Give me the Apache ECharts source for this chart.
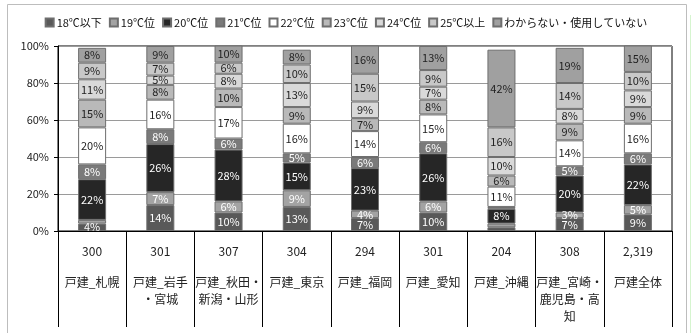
<!DOCTYPE html>
<html>
<head>
<meta charset="utf-8">
<script src="https://cdn.jsdelivr.net/npm/echarts@6/dist/echarts.min.js"></script>
<style>
  html, body { margin: 0; padding: 0; background: #fff; }
  #chart { width: 692px; height: 333px; }
</style>
</head>
<body>
<div id="chart"></div>
<script>
// 戸建住宅の暖房設定温度（地域別、構成比 %）
const regions = ['戸建_札幌', '戸建_岩手\n・宮城', '戸建_秋田・\n新潟・山形', '戸建_東京', '戸建_福岡',
                 '戸建_愛知', '戸建_沖縄', '戸建_宮崎・\n鹿児島・高\n知', '戸建全体'];
const sampleSizes = ['300', '301', '307', '304', '294', '301', '204', '308', '2,319'];

const seriesNames = ['18℃以下', '19℃位', '20℃位', '21℃位', '22℃位', '23℃位', '24℃位', '25℃以上', 'わからない・使用していない'];

const t18   = [4, 14, 10, 13, 7, 10, 2, 7, 9];
const t19   = [2, 7, 6, 9, 4, 6, 2, 3, 5];
const t20   = [22, 26, 28, 15, 23, 26, 8, 20, 22];
const t21   = [8, 8, 6, 5, 6, 6, 1, 5, 6];
const t22   = [20, 16, 17, 16, 14, 15, 11, 14, 16];
const t23   = [15, 8, 10, 9, 7, 8, 6, 9, 9];
const t24   = [11, 5, 8, 13, 9, 7, 10, 8, 9];
const t25   = [9, 7, 6, 10, 15, 9, 16, 14, 10];
const tNone = [8, 9, 10, 8, 16, 13, 42, 19, 15];

const yTicks = [0, 20, 40, 60, 80, 100];

const values = [t18, t19, t20, t21, t22, t23, t24, t25, tNone];
const fills = ['#595959', '#a3a3a3', '#262626', '#7a7a7a', '#ffffff', '#b9b9b9', '#d9d9d9', '#c8c8c8', '#a0a0a0'];
const labelColors = ['#fff', '#fff', '#fff', '#fff', '#222', '#222', '#222', '#222', '#222'];

const FONT = '"Noto Sans CJK JP", "Noto Sans", sans-serif';

const series = seriesNames.map((name, i) => ({
  name,
  type: 'bar',
  stack: 'total',
  barWidth: 28,
  data: values[i],
  itemStyle: { color: fills[i], borderColor: '#6e6e6e', borderWidth: 1 },
  label: {
    show: true,
    position: 'inside',
    fontFamily: FONT,
    fontSize: 11,
    color: labelColors[i],
    formatter: p => (p.value >= 3 ? p.value + '%' : '')
  }
}));

const chart = echarts.init(document.getElementById('chart'), null, { renderer: 'canvas' });
chart.setOption({
  animation: false,
  backgroundColor: '#fff',
  textStyle: { fontFamily: FONT },
  graphic: [
    { type: 'rect', shape: { x: 7.5, y: 4.5, width: 679, height: 340 }, style: { fill: 'none', stroke: '#bdbdbd', lineWidth: 1 }, silent: true },
    { type: 'line', shape: { x1: 690.5, y1: 15, x2: 690.5, y2: 333 }, style: { stroke: '#d6f5cf', lineWidth: 1 }, silent: true }
  ],
  legend: {
    top: 12,
    left: 'center',
    itemWidth: 8,
    itemHeight: 8,
    itemGap: 7,
    icon: 'rect',
    textStyle: { fontFamily: FONT, fontSize: 11, color: '#111', padding: [0, 0, 0, -2] },
    data: seriesNames
  },
  grid: {
    left: 58, right: 20, top: 46, bottom: 102,
    show: true, borderColor: '#000', borderWidth: 1, backgroundColor: '#fff'
  },
  xAxis: {
    type: 'category',
    data: regions,
    axisLine: { lineStyle: { color: '#000', width: 1 } },
    axisTick: { show: true, length: 96, interval: 0, lineStyle: { color: '#000' } },
    axisLabel: {
      interval: 0,
      margin: 12,
      fontFamily: FONT,
      color: '#222',
      formatter: (v, idx) => {
        const nameLines = v.split('\n').map(s => '{c|' + s + '}').join('\n');
        return '{n|' + sampleSizes[idx] + '}\n{g| }\n' + nameLines;
      },
      rich: {
        n: { fontFamily: FONT, fontSize: 12, lineHeight: 17, color: '#222' },
        g: { fontSize: 4, lineHeight: 14 },
        c: { fontFamily: FONT, fontSize: 12, lineHeight: 17, color: '#222' }
      }
    }
  },
  yAxis: {
    type: 'value',
    min: yTicks[0],
    max: yTicks[yTicks.length - 1],
    interval: 20,
    axisLine: { show: true, lineStyle: { color: '#000' } },
    axisTick: { show: true, length: 4, lineStyle: { color: '#000' } },
    splitLine: { lineStyle: { color: '#9a9a9a', width: 1 } },
    axisLabel: { fontFamily: FONT, fontSize: 11, color: '#222', margin: 9, formatter: '{value}%' }
  },
  series
});
</script>
</body>
</html>
